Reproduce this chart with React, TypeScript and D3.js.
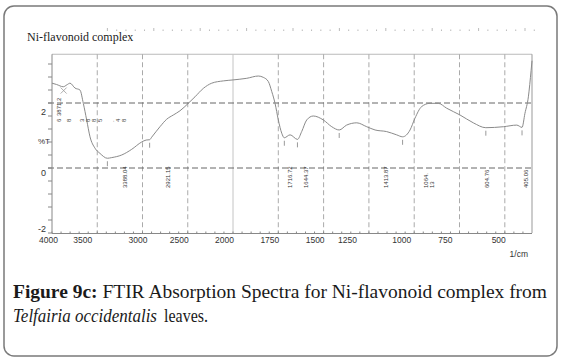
import React from "react";
import * as d3 from "d3";

// ---- data ----
const wavenumbers = [4000, 3950, 3875, 3835, 3801, 3746, 3691, 3654, 3617, 3580, 3525, 3470, 3388, 3340, 3230, 3119, 3009, 2960, 2921, 2898, 2807, 2733, 2660, 2586, 2494, 2420, 2328, 2235, 2107, 2000, 1924, 1860, 1833, 1805, 1786, 1768, 1750, 1731, 1717, 1685, 1644, 1621, 1593, 1557, 1502, 1455, 1414, 1373, 1317, 1262, 1216, 1152, 1097, 1064, 1023, 996, 959, 913, 867, 821, 747, 674, 605, 508, 434, 405, 389, 370, 355, 350];
const transmittance = [2.61, 2.57, 2.5, 2.56, 2.61, 2.46, 2.4, 1.99, 1.48, 0.96, 0.61, 0.45, 0.3, 0.32, 0.4, 0.575, 0.8, 0.86, 0.87, 0.95, 1.27, 1.5, 1.63, 1.76, 1.99, 2.19, 2.45, 2.61, 2.68, 2.71, 2.76, 2.83, 2.79, 2.66, 2.35, 1.99, 1.48, 1.07, 0.93, 1.02, 0.88, 1.12, 1.48, 1.6, 1.48, 1.27, 1.17, 1.32, 1.39, 1.27, 1.17, 1.12, 1.02, 0.96, 1.17, 1.53, 1.89, 1.99, 1.99, 1.84, 1.63, 1.39, 1.24, 1.27, 1.32, 1.25, 1.68, 2.19, 3.0, 3.3];

const peakWavenumbers = [3388.04, 2921.15, 1716.72, 1644.37, 1413.87, 1064.13, 604.76, 405.06];
const peakLabels = ["3388.04", "2921.15", "1716.72", "1644.37", "1413.87", "1064.|13", "604.76", "405.06"];
const topPeakWavenumber = 3871.26;

const xTickValues = [4000, 3500, 3000, 2500, 2000, 1750, 1500, 1250, 1000, 750, 500];
const yLabelValues = [2, 0, -2];
const xGridValues = [3500, 3000, 2500, 1750, 1500, 1250, 1000, 750, 500];
const yDashedValues = [2, 0];

// ---- layout (pixel nudges for labels, as placed in the reference) ----
const peakLabelDx = [18, 18, 6, 9, 47, 23, 1, 4];
const tickLabelDx: Record<number, number> = { 4000: 5, 3500: -6, 3000: 4, 1250: -13, 1000: -4, 750: -8 };
const yLabelDy = [12, 8, -1];
const strayGlyphs = ["8", "3", "8", "8", "5", ".", "4", "8"];
const strayGlyphX = [69, 82, 88, 94, 100, 112, 118, 124];

const W = 565;
const H = 363;
const left = 52, right = 532, top = 54.25, bottom = 233;

export default function App() {
  const x = d3.scaleLinear().domain([4000, 2000, 350]).range([left, 233, right]);
  const y = d3.scaleLinear().domain([-2, 3.5]).range([bottom, top]);
  const interp = d3.scaleLinear().domain(wavenumbers).range(transmittance);

  const pts: [number, number][] = wavenumbers.map((w, i) => [x(w), y(transmittance[i])]);
  const line = d3.line().curve(d3.curveMonotoneX)(pts) || "";

  const yMinor = d3.range(-2, 3.3, 0.4);
  const xMinorUpper = d3.range(4000, 2000, -100);
  const xMinorLower = d3.range(2000, 350, -50);
  const ruler = d3.range(0, 47);

  const sans = "'Liberation Sans', Arial, sans-serif";
  const serif = "'Liberation Serif', 'Times New Roman', serif";

  const tx = x(topPeakWavenumber);
  const ty = y(interp(topPeakWavenumber));

  return (
    <svg width={W} height={H} style={{ position: "absolute", left: 0, top: 0, background: "#fff" }}>
      {/* outer rounded frame */}
      <rect x={4} y={6} width={553} height={350} rx={10} ry={10} fill="none" stroke="#7a7a7a" strokeWidth={1.5} />

      {/* top ruler */}
      {ruler.map((i) => {
        const rx = 107.4 + i * 9.28;
        const big = i % 5 === 0;
        return <line key={"r" + i} x1={rx} x2={rx} y1={big ? 28 : 29.5} y2={31} stroke="#aaa" strokeWidth={0.8} />;
      })}

      <text x={27} y={41} fontFamily={serif} fontSize={12} fill="#222">Ni-flavonoid complex</text>

      {/* plot frame (top/right) */}
      <line x1={left} x2={right} y1={top} y2={top} stroke="#bbb" strokeWidth={1} />
      <line x1={right} x2={right} y1={top} y2={bottom} stroke="#999" strokeWidth={1} />

      {/* vertical grid */}
      {xGridValues.map((v) => (
        <line key={"g" + v} x1={x(v)} x2={x(v)} y1={top} y2={bottom} stroke="#aaa" strokeWidth={1} strokeDasharray="5,3" />
      ))}
      <line x1={x(2000)} x2={x(2000)} y1={top} y2={bottom} stroke="#c4c4c4" strokeWidth={1} />

      {/* horizontal dashed lines */}
      {yDashedValues.map((v) => (
        <line key={"h" + v} x1={left - 4} x2={right} y1={y(v)} y2={y(v)} stroke="#666" strokeWidth={1} strokeDasharray="6,3" />
      ))}

      {/* axes */}
      <line x1={left} x2={left} y1={top} y2={bottom} stroke="#888" strokeWidth={1} />
      <line x1={left} x2={right} y1={bottom + 0.5} y2={bottom + 0.5} stroke="#888" strokeWidth={1} />
      {yMinor.map((v, i) => (
        <line key={"ym" + i} x1={left - 4} x2={left} y1={y(v)} y2={y(v)} stroke="#888" strokeWidth={1} />
      ))}
      {[...xMinorUpper, ...xMinorLower].map((v, i) => (
        <line key={"xm" + i} x1={x(v)} x2={x(v)} y1={bottom - 1.5} y2={bottom + 0.5} stroke="#888" strokeWidth={1} />
      ))}

      {/* tick labels */}
      {xTickValues.map((v) => (
        <text key={"xt" + v} x={x(v) + 1 + (tickLabelDx[v] || 0)} y={243} textAnchor="end" fontFamily={sans} fontSize={8.5} fill="#333">{v}</text>
      ))}
      <text x={528} y={257} textAnchor="end" fontFamily={sans} fontSize={8.5} fill="#333">1/cm</text>
      {yLabelValues.map((v, i) => (
        <text key={"yt" + v} x={46} y={y(v) + yLabelDy[i]} textAnchor="end" fontFamily={sans} fontSize={9} fill="#333">{v}</text>
      ))}
      <text x={38} y={144} fontFamily={sans} fontSize={8} fill="#333">%T</text>

      {/* spectrum */}
      <path d={line} fill="none" stroke="#8a8a8a" strokeWidth={1} />

      {/* peak markers */}
      {peakWavenumbers.map((w) => {
        const px = x(w);
        const py = y(interp(w));
        return <line key={"pm" + w} x1={px} x2={px} y1={py + 3} y2={py + 8} stroke="#999" strokeWidth={1} />;
      })}
      <line x1={tx - 3} x2={tx + 3} y1={ty + 1} y2={ty + 7} stroke="#999" strokeWidth={0.8} />
      <line x1={tx + 3} x2={tx - 3} y1={ty + 1} y2={ty + 7} stroke="#999" strokeWidth={0.8} />

      {/* peak labels (vertical) */}
      {peakWavenumbers.map((w, i) => {
        const lx = x(w) + peakLabelDx[i] + 2;
        const parts = peakLabels[i].split("|");
        return (
          <g key={"pl" + w}>
            {parts.map((p, j) => (
              <text key={j} transform={`translate(${lx + j * 6},188) rotate(-90)`} fontFamily={sans} fontSize={6} fill="#333">{p}</text>
            ))}
          </g>
        );
      })}
      <text transform={`translate(${x(topPeakWavenumber) - 3},116) rotate(-90)`} fontFamily={sans} fontSize={6} fill="#333">3871.2</text>
      <text transform={`translate(${x(topPeakWavenumber) - 3},122) rotate(-90)`} fontFamily={sans} fontSize={6} fill="#333">6</text>
      {strayGlyphs.map((g, i) => (
        <text key={"sg" + i} transform={`translate(${strayGlyphX[i] + 2},122) rotate(-90)`} fontFamily={sans} fontSize={6} fill="#444">{g}</text>
      ))}

      {/* caption */}
      <text x={13} y={298} fontFamily={serif} fontSize={19.5} fill="#1a1a1a" textLength={534} lengthAdjust="spacingAndGlyphs">
        <tspan fontWeight="bold">Figure 9c:</tspan>
        <tspan> FTIR Absorption Spectra for Ni-flavonoid complex from</tspan>
      </text>
      <text transform="translate(13,322) scale(0.87,1)" fontFamily={serif} fontSize={19.5} fill="#1a1a1a" fontStyle="italic">
        Telfairia occidentalis
      </text>
      <text transform="translate(164,322) scale(0.82,1)" fontFamily={serif} fontSize={19.5} fill="#1a1a1a">
        leaves.
      </text>
    </svg>
  );
}
